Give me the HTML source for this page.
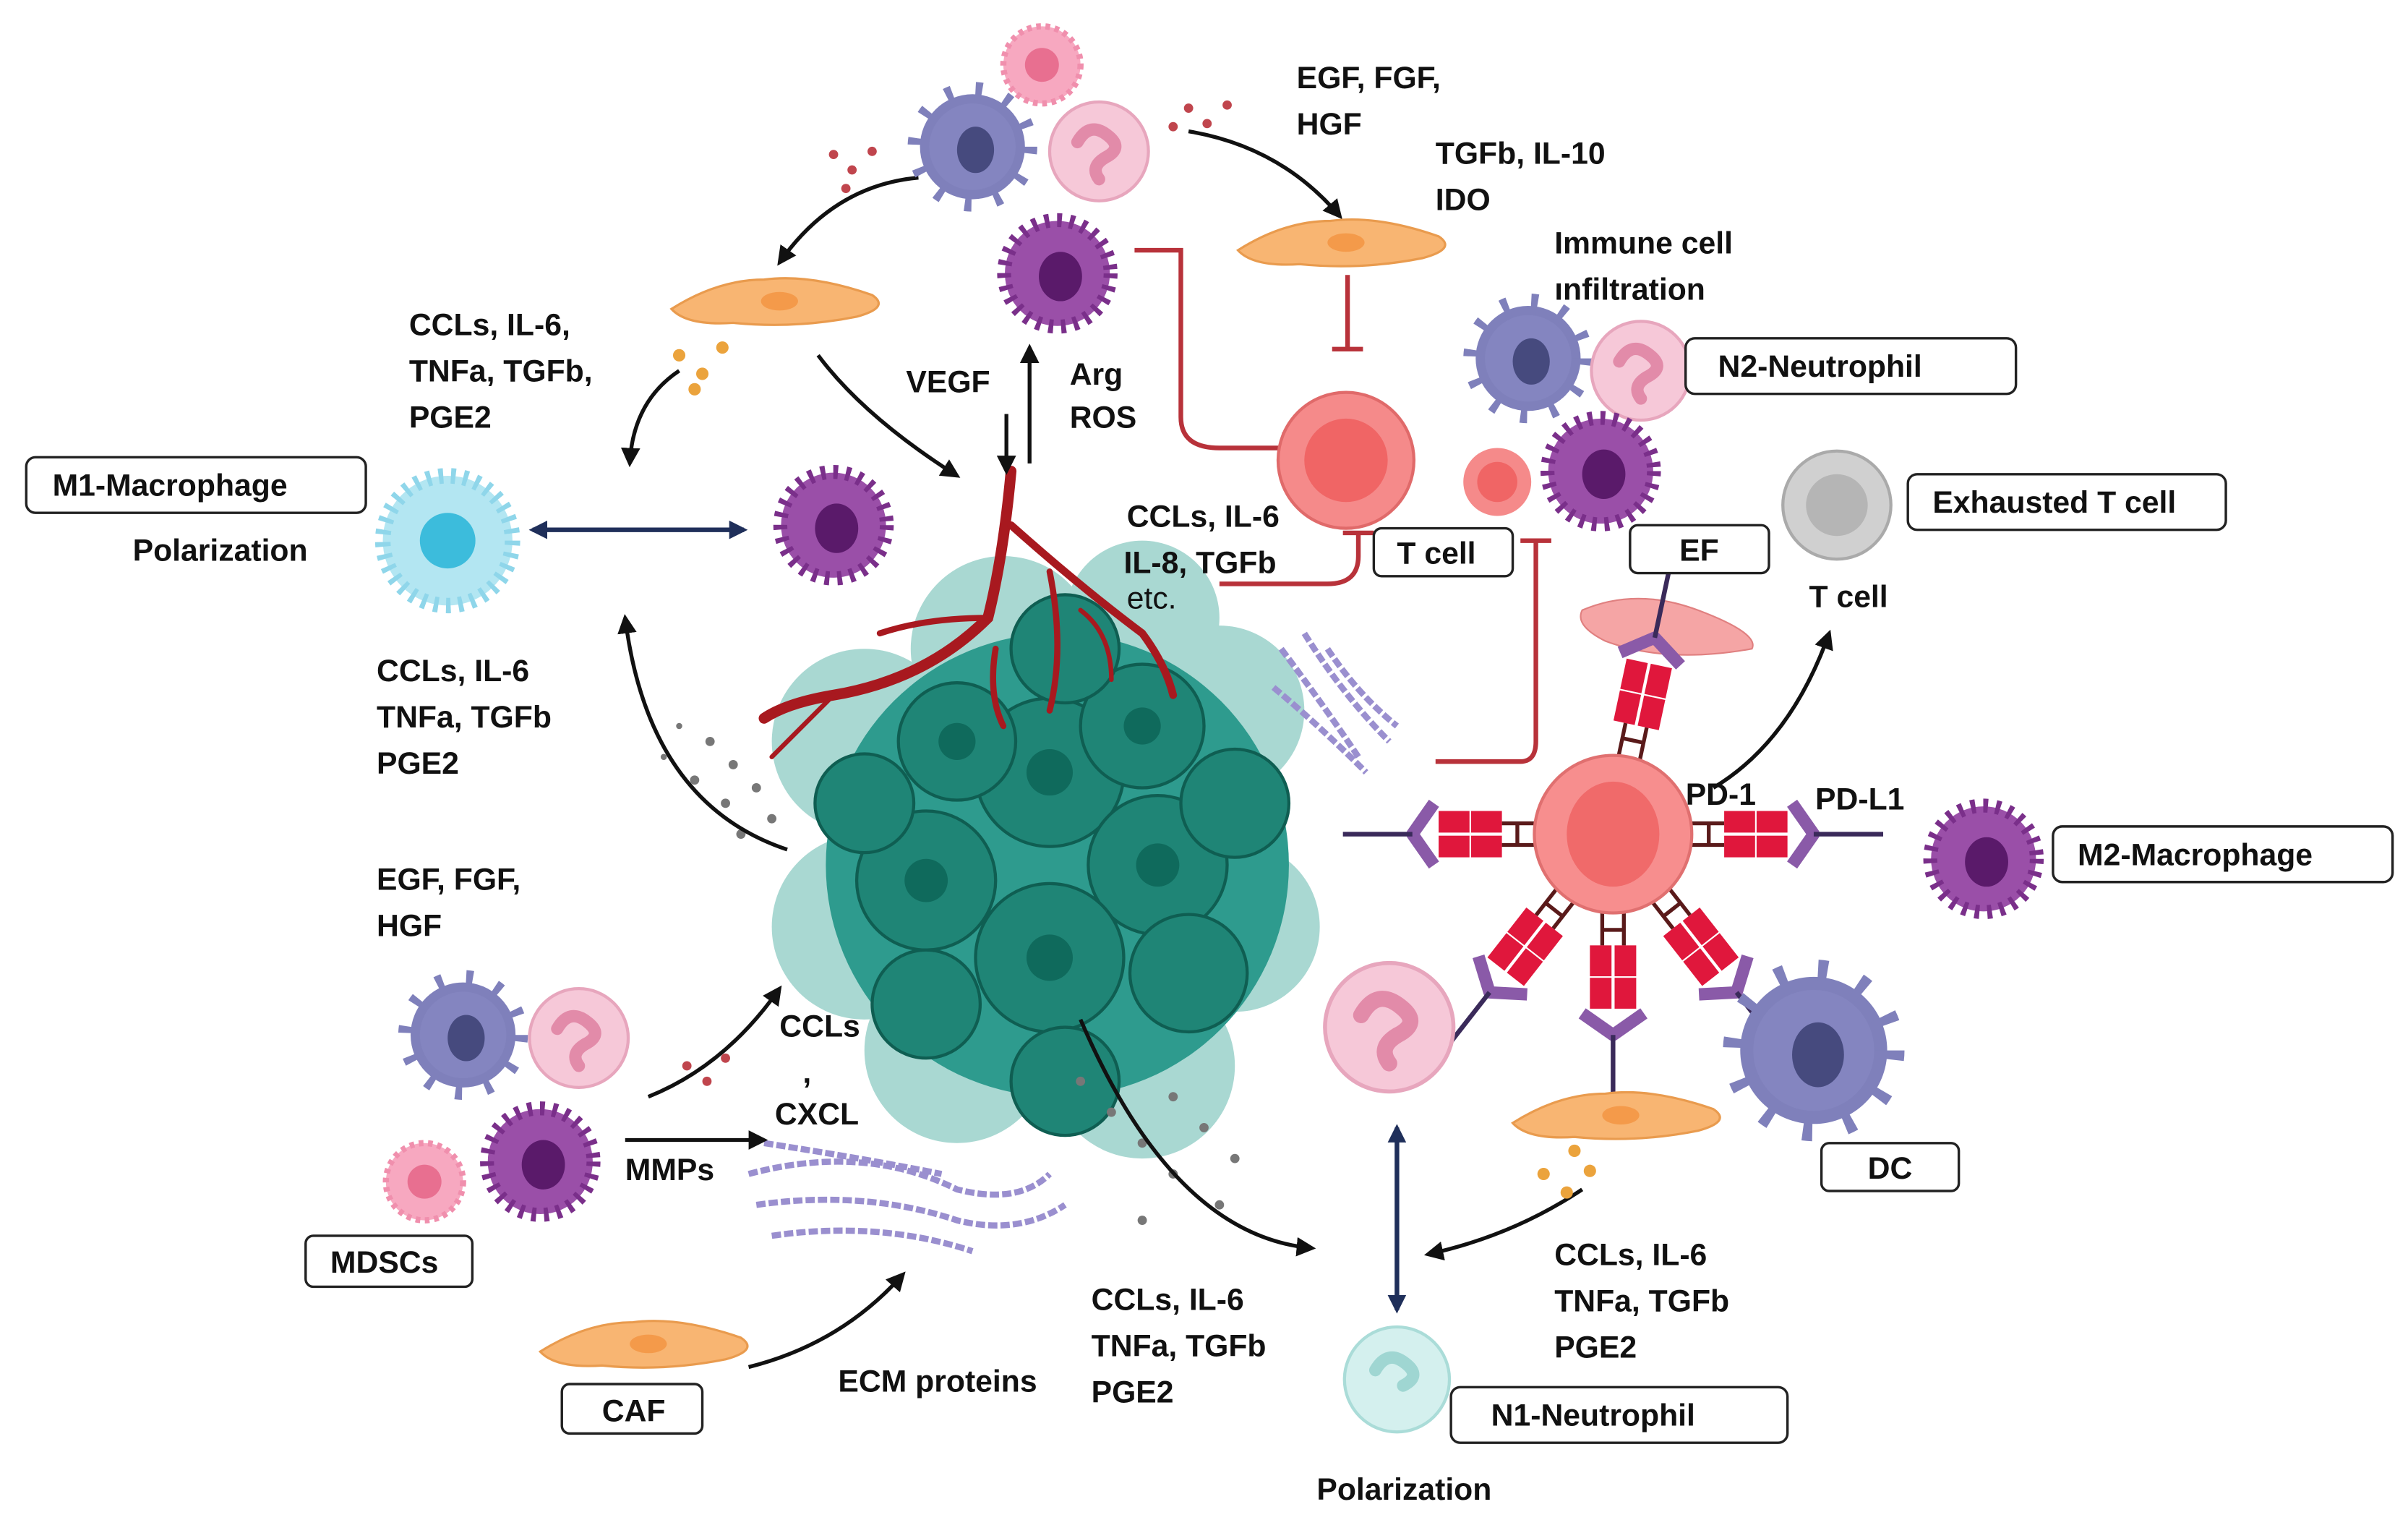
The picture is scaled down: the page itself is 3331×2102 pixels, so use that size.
<!DOCTYPE html>
<html><head><meta charset="utf-8"><style>
html,body{margin:0;padding:0;background:#fff}
svg{display:block}
text{font-family:"Liberation Sans",sans-serif;font-weight:bold;font-size:20px;fill:#111}
.box{fill:#fff;stroke:#222;stroke-width:1.6}
</style></head><body>
<svg width="3331" height="2102" viewBox="0 0 1560 984" preserveAspectRatio="none" xmlns="http://www.w3.org/2000/svg">
<defs>
<marker id="ah" viewBox="0 0 10 10" refX="8" refY="5" markerWidth="5" markerHeight="5" orient="auto-start-reverse"><path d="M0,0L10,5L0,10z" fill="#111"/></marker>
<marker id="an" viewBox="0 0 10 10" refX="8" refY="5" markerWidth="4" markerHeight="4" orient="auto-start-reverse"><path d="M0,0L10,5L0,10z" fill="#1f2f5a"/></marker>
<g id="rec">
<line x1="48" y1="-7" x2="72" y2="-7" stroke="#5a1a1a" stroke-width="2.5"/>
<line x1="48" y1="7" x2="72" y2="7" stroke="#5a1a1a" stroke-width="2.5"/>
<line x1="62" y1="-7" x2="62" y2="7" stroke="#5a1a1a" stroke-width="2.5"/>
<rect x="72" y="-15" width="20" height="14" fill="#e0173c"/><rect x="93" y="-15" width="20" height="14" fill="#e0173c"/>
<rect x="72" y="1" width="20" height="14" fill="#e0173c"/><rect x="93" y="1" width="20" height="14" fill="#e0173c"/>
<path d="M116,-20 L130,0 L116,20" fill="none" stroke="#8a5aa8" stroke-width="8" stroke-linejoin="round"/>
<line x1="130" y1="0" x2="175" y2="0" stroke="#3a2a5a" stroke-width="3"/>
</g>
<g id="fib"><path d="M-70,5 Q-40,-14 -10,-14 Q20,-18 60,-4 Q72,4 50,10 Q10,18 -30,14 Q-60,16 -70,5z" fill="#f8b572" stroke="#e99b4e" stroke-width="1.5"/><ellipse cx="0" cy="0" rx="12" ry="6" fill="#f49a4a"/></g>
<g id="mac"><circle r="34" fill="#9a4fa8" stroke="#7a2f8a" stroke-width="10" stroke-dasharray="3 5"/><circle r="30" fill="#9a4fa8"/><ellipse cx="2" cy="2" rx="14" ry="16" fill="#5a1a6a"/></g>
<g id="dc"><circle r="34" fill="#7f80bb" stroke="#7f80bb" stroke-width="16" stroke-dasharray="4 14"/><circle r="28" fill="#8485c0"/><ellipse cx="2" cy="2" rx="12" ry="15" fill="#464a7e"/></g>
<g id="neu"><circle r="32" fill="#f6c8d8" stroke="#e7a6bd" stroke-width="2"/><path d="M-14,-6 q8,-14 20,-4 q10,8 -2,14 q-10,6 -4,14" fill="none" stroke="#e28ba9" stroke-width="8" stroke-linecap="round"/></g>
<g id="pk"><circle r="25" fill="#f7a8c0" stroke="#f08fad" stroke-width="4" stroke-dasharray="3 3"/><circle r="11" fill="#e86f90"/></g>
</defs>

<!-- tumor -->
<g>
<g fill="#a9d8d2">
<circle cx="560" cy="480" r="60"/><circle cx="560" cy="600" r="60"/><circle cx="620" cy="680" r="60"/><circle cx="740" cy="690" r="60"/><circle cx="800" cy="600" r="55"/><circle cx="790" cy="460" r="55"/><circle cx="650" cy="420" r="60"/><circle cx="740" cy="400" r="50"/>
</g>
<ellipse cx="685" cy="560" rx="150" ry="150" fill="#2e9b8e"/>
<g fill="#1f8576" stroke="#0f5e52" stroke-width="2">
<circle cx="600" cy="570" r="45"/><circle cx="680" cy="500" r="48"/><circle cx="750" cy="560" r="45"/><circle cx="680" cy="620" r="48"/><circle cx="740" cy="470" r="40"/><circle cx="620" cy="480" r="38"/><circle cx="770" cy="630" r="38"/><circle cx="600" cy="650" r="35"/><circle cx="690" cy="420" r="35"/><circle cx="800" cy="520" r="35"/><circle cx="690" cy="700" r="35"/><circle cx="560" cy="520" r="32"/>
</g>
<g fill="#0f6a5c"><circle cx="600" cy="570" r="14"/><circle cx="680" cy="500" r="15"/><circle cx="750" cy="560" r="14"/><circle cx="680" cy="620" r="15"/><circle cx="740" cy="470" r="12"/><circle cx="620" cy="480" r="12"/></g>
</g>
<!-- vessel -->
<g fill="none" stroke="#a8191f" stroke-linecap="round">
<path d="M655,305 Q650,360 640,400 Q600,440 540,450 Q510,455 495,465" stroke-width="7"/>
<path d="M640,400 Q600,400 570,410" stroke-width="4"/>
<path d="M655,340 Q700,380 740,410 Q755,430 760,450" stroke-width="5"/>
<path d="M645,420 Q640,450 650,470" stroke-width="4"/>
<path d="M680,370 Q690,420 680,460" stroke-width="4"/>
<path d="M540,450 Q520,470 500,490" stroke-width="3"/>
<path d="M700,395 Q720,410 720,440" stroke-width="3"/>
</g>
<!-- dots -->
<g fill="#777">
<circle cx="460" cy="480" r="3"/><circle cx="475" cy="495" r="3"/><circle cx="490" cy="510" r="3"/><circle cx="470" cy="520" r="3"/><circle cx="450" cy="505" r="3"/><circle cx="500" cy="530" r="3"/><circle cx="480" cy="540" r="3"/><circle cx="440" cy="470" r="2"/><circle cx="430" cy="490" r="2"/>
<circle cx="700" cy="700" r="3"/><circle cx="720" cy="720" r="3"/><circle cx="740" cy="740" r="3"/><circle cx="760" cy="760" r="3"/><circle cx="780" cy="730" r="3"/><circle cx="760" cy="710" r="3"/><circle cx="740" cy="790" r="3"/><circle cx="790" cy="780" r="3"/><circle cx="800" cy="750" r="3"/>
</g>
<!-- ECM fibers -->
<g fill="none" stroke="#9a8fcf" stroke-width="4" stroke-dasharray="6 2">
<path d="M485,760 Q560,740 620,770 Q660,780 680,760"/><path d="M490,780 Q560,770 620,790 Q660,800 690,780"/><path d="M500,800 Q570,790 630,810"/><path d="M495,740 Q560,750 610,760"/>
<path d="M830,420 Q860,460 880,490"/><path d="M845,410 Q870,450 900,480"/><path d="M825,445 Q855,470 885,500"/><path d="M860,420 Q880,450 905,470"/>
</g>

<!-- red inhibition lines -->
<g fill="none" stroke="#b8323a" stroke-width="3">
<path d="M735,162 L765,162 Q765,162 765,180 L765,270 Q765,290 790,290 L832,290"/><line x1="832" y1="280" x2="832" y2="300"/>
<line x1="873" y1="178" x2="873" y2="226"/><line x1="863" y1="226" x2="883" y2="226"/>
<path d="M790,378 L860,378 Q880,378 880,360 L880,345"/><line x1="870" y1="345" x2="890" y2="345"/>
<path d="M930,493 L985,493 Q995,493 995,480 L995,350"/><line x1="985" y1="350" x2="1005" y2="350"/>
</g>

<!-- black arrows -->
<g fill="none" stroke="#111" stroke-width="2.5" marker-end="url(#ah)">
<path d="M595,115 Q540,120 505,170"/>
<path d="M770,85 Q830,95 868,140"/>
<path d="M440,240 Q410,260 408,300"/>
<path d="M530,230 Q560,270 620,308"/>
<line x1="652" y1="268" x2="652" y2="305"/>
<line x1="667" y1="300" x2="667" y2="225"/>
<path d="M510,550 Q420,520 405,400"/>
<path d="M700,660 Q760,800 850,808"/>
<path d="M1025,770 Q980,800 925,812"/>
<path d="M1110,510 Q1160,480 1185,410"/>
<path d="M420,710 Q470,690 505,640"/>
<line x1="405" y1="738" x2="495" y2="738"/>
<path d="M485,885 Q545,870 585,825"/>
</g>
<line x1="345" y1="343" x2="482" y2="343" stroke="#1f2f5a" stroke-width="3" marker-start="url(#an)" marker-end="url(#an)"/>
<line x1="905" y1="730" x2="905" y2="848" stroke="#1f2f5a" stroke-width="3" marker-start="url(#an)" marker-end="url(#an)"/>

<!-- cells -->
<use href="#dc" x="630" y="95"/><use href="#pk" x="675" y="42"/><use href="#neu" x="712" y="98"/>
<use href="#mac" x="685" y="177"/>
<use href="#fib" x="505" y="195"/><use href="#fib" x="872" y="157"/>
<g transform="translate(290,350)"><circle r="42" fill="#b3e6f2" stroke="#8fd6ea" stroke-width="10" stroke-dasharray="3 5"/><circle r="18" fill="#3cbcdc"/></g>
<use href="#mac" x="540" y="340"/>
<circle cx="872" cy="298" r="44" fill="#f58a8a" stroke="#e06a6a" stroke-width="2"/><circle cx="872" cy="298" r="27" fill="#f06565"/>
<circle cx="970" cy="312" r="22" fill="#f58a8a"/><circle cx="970" cy="312" r="13" fill="#f06565"/>
<use href="#dc" x="990" y="232"/><use href="#neu" x="1063" y="240"/><use href="#mac" x="1037" y="305"/>
<circle cx="1190" cy="327" r="35" fill="#d0d0d0" stroke="#aaa" stroke-width="2"/><circle cx="1190" cy="327" r="20" fill="#b5b5b5"/>
<path d="M1025,395 Q1060,380 1100,395 Q1140,410 1135,420 Q1080,430 1040,415 Q1020,405 1025,395z" fill="#f5a5a5" stroke="#e08080"/>
<!-- PD-1 cell and receptors -->
<use href="#rec" transform="translate(1045,540) rotate(180)"/>
<use href="#rec" transform="translate(1045,540)"/>
<use href="#rec" transform="translate(1045,540) rotate(-78)"/>
<use href="#rec" transform="translate(1045,540) rotate(128)"/>
<use href="#rec" transform="translate(1045,540) rotate(90)"/>
<use href="#rec" transform="translate(1045,540) rotate(52)"/>
<circle cx="1045" cy="540" r="51" fill="#f78e8e" stroke="#e07070" stroke-width="2"/><ellipse cx="1045" cy="540" rx="30" ry="34" fill="#f06a6a"/>
<use href="#mac" x="1285" y="556"/>
<g transform="translate(1175,680) scale(1.4)"><use href="#dc"/></g>
<g transform="translate(900,665) scale(1.3)"><use href="#neu"/></g>
<use href="#fib" x="1050" y="722"/>
<g transform="translate(905,893)"><circle r="34" fill="#d4f0ee" stroke="#aadcd8" stroke-width="2"/><path d="M-14,-6 q8,-14 20,-4 q10,8 -2,14" fill="none" stroke="#9fd6d2" stroke-width="8" stroke-linecap="round"/></g>
<use href="#dc" x="300" y="670"/><use href="#neu" x="375" y="672"/><use href="#mac" x="350" y="752"/><use href="#pk" x="275" y="765"/>
<use href="#fib" x="420" y="870"/>
<!-- small dot clusters -->
<g fill="#c0454d"><circle cx="540" cy="100" r="3"/><circle cx="552" cy="110" r="3"/><circle cx="565" cy="98" r="3"/><circle cx="548" cy="122" r="3"/><circle cx="770" cy="70" r="3"/><circle cx="782" cy="80" r="3"/><circle cx="795" cy="68" r="3"/><circle cx="760" cy="82" r="3"/><circle cx="445" cy="690" r="3"/><circle cx="458" cy="700" r="3"/><circle cx="470" cy="685" r="3"/></g>
<g fill="#eba33c"><circle cx="440" cy="230" r="4"/><circle cx="455" cy="242" r="4"/><circle cx="468" cy="225" r="4"/><circle cx="450" cy="252" r="4"/><circle cx="1000" cy="760" r="4"/><circle cx="1015" cy="772" r="4"/><circle cx="1030" cy="758" r="4"/><circle cx="1020" cy="745" r="4"/></g>

<!-- boxes -->
<rect class="box" x="17" y="296" width="220" height="36" rx="6"/><text x="34" y="321">M1-Macrophage</text>
<rect class="box" x="1092" y="219" width="214" height="36" rx="6"/><text x="1113" y="244">N2-Neutrophil</text>
<rect class="box" x="1236" y="307" width="206" height="36" rx="6"/><text x="1252" y="332">Exhausted T cell</text>
<rect class="box" x="1056" y="340" width="90" height="31" rx="5"/><text x="1088" y="363">EF</text>
<rect class="box" x="890" y="342" width="90" height="31" rx="5"/><text x="905" y="365">T cell</text>
<rect class="box" x="1330" y="535" width="220" height="36" rx="6"/><text x="1346" y="560">M2-Macrophage</text>
<rect class="box" x="1180" y="740" width="89" height="31" rx="5"/><text x="1210" y="763">DC</text>
<rect class="box" x="198" y="800" width="108" height="33" rx="5"/><text x="214" y="824">MDSCs</text>
<rect class="box" x="364" y="896" width="91" height="32" rx="5"/><text x="390" y="920">CAF</text>
<rect class="box" x="940" y="898" width="218" height="36" rx="6"/><text x="966" y="923">N1-Neutrophil</text>

<!-- text -->
<text x="265" y="217">CCLs, IL-6,</text><text x="265" y="247">TNFa, TGFb,</text><text x="265" y="277">PGE2</text>
<text x="86" y="363">Polarization</text>
<text x="244" y="441">CCLs, IL-6</text><text x="244" y="471">TNFa, TGFb</text><text x="244" y="501">PGE2</text>
<text x="244" y="576">EGF, FGF,</text><text x="244" y="606">HGF</text>
<text x="840" y="57">EGF, FGF,</text><text x="840" y="87">HGF</text>
<text x="930" y="106">TGFb, IL-10</text><text x="930" y="136">IDO</text>
<text x="1007" y="164">Immune cell</text><text x="1007" y="194">ınfiltration</text>
<text x="587" y="254">VEGF</text><text x="693" y="249">Arg</text><text x="693" y="277">ROS</text>
<text x="730" y="341">CCLs, IL-6</text><text x="728" y="371">IL-8, TGFb</text><text x="730" y="394" style="font-weight:normal">etc.</text>
<text x="1172" y="393">T cell</text>
<text x="1092" y="521">PD-1</text><text x="1176" y="524">PD-L1</text>
<text x="505" y="671">CCLs</text><text x="520" y="701">,</text><text x="502" y="728">CXCL</text>
<text x="405" y="764">MMPs</text>
<text x="543" y="901">ECM proteins</text>
<text x="707" y="848">CCLs, IL-6</text><text x="707" y="878">TNFa, TGFb</text><text x="707" y="908">PGE2</text>
<text x="1007" y="819">CCLs, IL-6</text><text x="1007" y="849">TNFa, TGFb</text><text x="1007" y="879">PGE2</text>
<text x="853" y="971">Polarization</text>
</svg>
</body></html>
